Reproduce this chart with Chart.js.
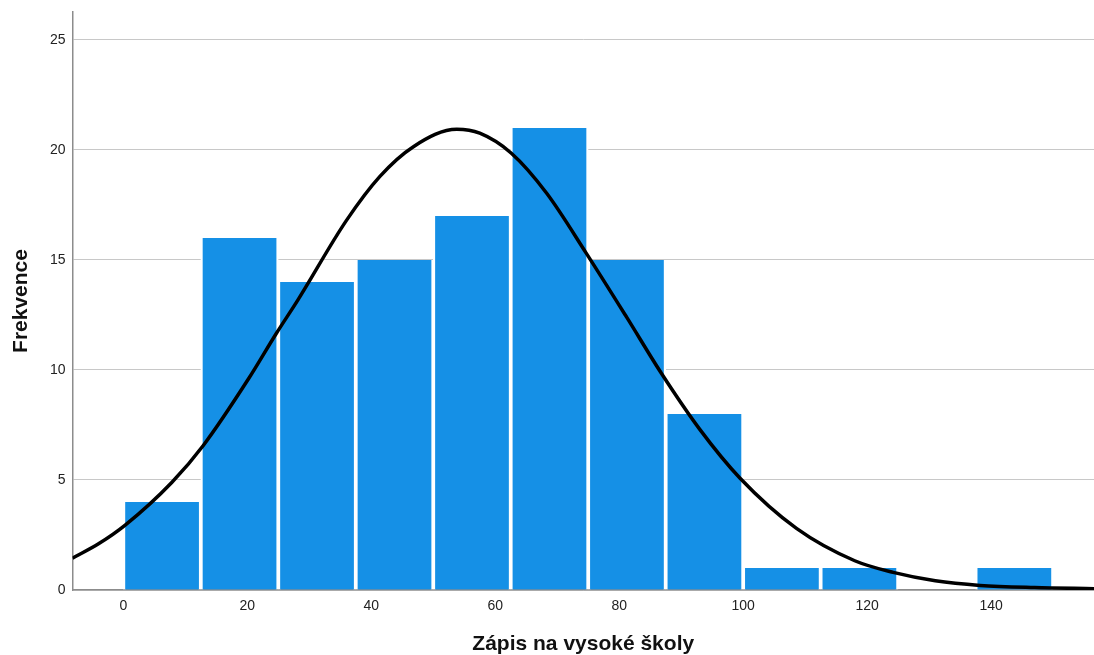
<!DOCTYPE html>
<html>
<head>
<meta charset="utf-8">
<script src="https://cdn.jsdelivr.net/npm/chart.js@4/dist/chart.umd.min.js"></script>
<style>
  html, body { margin: 0; padding: 0; background: #fff; }
  #wrap { width: 1094px; height: 655px; }
</style>
</head>
<body>
<div id="wrap"><canvas id="hist"></canvas></div>
<script>
// histogram bins (lower edge) and counts
var binStart = [0, 12.5, 25, 37.5, 50, 62.5, 75, 87.5, 100, 112.5, 125, 137.5];
var binWidth = 12.5;
var counts = [4, 16, 14, 15, 17, 21, 15, 8, 1, 1, 0, 1];

// normal curve, points
var curveX = [-8.2, -4, 0.3, 7.85, 12.9, 20.2, 24.7, 28.2, 36, 41.4, 46.8, 53.8, 57.5, 62.6, 68.3, 74.7, 81.2, 86.8, 93, 99.5, 108.6, 118, 124.2, 131, 138.2, 147, 156.6];
var curveY = [1.45, 2.1, 2.95, 4.9, 6.57, 9.6, 11.67, 13.2, 16.8, 18.8, 20.15, 20.94, 20.76, 19.85, 18.03, 15.3, 12.4, 9.85, 7.3, 5.08, 2.8, 1.33, 0.8, 0.42, 0.21, 0.11, 0.06];

var xTitle = "Zápis na vysoké školy";
var yTitle = "Frekvence";

var barData = binStart.map(function(b, i){ return {x: b + binWidth / 2, y: counts[i]} });
var lineData = curveX.map(function(x, i){ return {x: x, y: curveY[i]} });

var ctx = document.getElementById("hist").getContext("2d");

var chart = new Chart(ctx, {
    data: {
        datasets: [{
            type: "line",
            data: lineData,
            borderColor: "#000",
            borderWidth: 3.5,
            pointRadius: 0,
            cubicInterpolationMode: "monotone",
            fill: false
        },
        {
            type: "bar",
            data: barData,
            backgroundColor: "#1590e6",
            borderColor: "#fff",
            borderWidth: {left: 2.2, right: 2.2, top: 0, bottom: 0},
            borderSkipped: false,
            barPercentage: 1,
            categoryPercentage: 1
        }]
    },
    options: {
        responsive: true,
        maintainAspectRatio: false,
        animation: false,
        layout: { padding: { top: 12, right: 0, left: 0, bottom: 0 } },
        plugins: { legend: { display: false }, tooltip: { enabled: false } },
        scales: {
            x: {
                type: "linear",
                offset: false,
                min: -8.2,
                max: 156.6,
                grid: { display: false, drawTicks: false, offset: false },
                border: { display: true, color: "#8c8c8c", width: 1.5 },
                ticks: {
                    stepSize: 20,
                    includeBounds: false,
                    padding: 8,
                    color: "#222",
                    font: { family: "Liberation Sans", size: 14 }
                },
                title: {
                    display: true,
                    text: xTitle,
                    color: "#111",
                    padding: { top: 0, bottom: 0 },
                    font: { family: "Liberation Sans", size: 21, weight: "bold", lineHeight: 1 }
                },
                afterFit: function(scale){ scale.height = 65 }
            },
            y: {
                min: 0,
                max: 26.27,
                grid: { color: "#c8c8c8", lineWidth: 1, drawTicks: false },
                border: { display: true, color: "#8c8c8c", width: 1.5 },
                ticks: {
                    stepSize: 5,
                    includeBounds: false,
                    padding: 7,
                    color: "#222",
                    font: { family: "Liberation Sans", size: 14, lineHeight: 1 }
                },
                title: {
                    display: true,
                    text: yTitle,
                    color: "#111",
                    padding: { top: 10.5, bottom: 0 },
                    font: { family: "Liberation Sans", size: 21, weight: "bold", lineHeight: 1 }
                },
                afterFit: function(scale){
                    scale.width = 72.5
                    scale.paddingTop = 0
                    scale.paddingBottom = 0
                }
            }
        }
    }
});
</script>
</body>
</html>
